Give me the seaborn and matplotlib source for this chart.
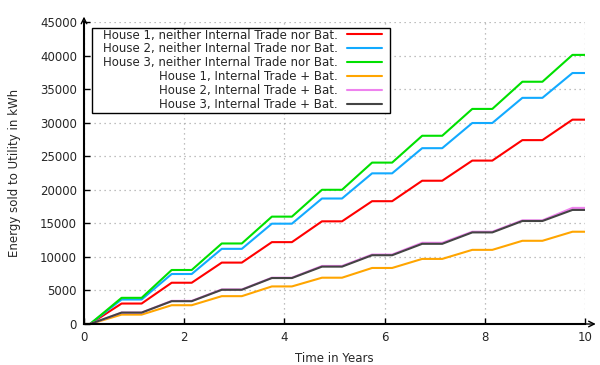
import numpy as np
import pandas as pd
import matplotlib
matplotlib.use("Agg")
import matplotlib.pyplot as plt
from matplotlib.patches import Rectangle
import seaborn as sns

# Year-end plateau values (kWh)
years = [1, 2, 3, 4, 5, 6, 7, 8, 9, 10]
h1_none = [3050, 6150, 9150, 12200, 15300, 18300, 21350, 24350, 27400, 30450]
h2_none = [3650, 7450, 11200, 14950, 18700, 22450, 26200, 29950, 33700, 37400]
h3_none = [3900, 8050, 12000, 16000, 20000, 24050, 28050, 32050, 36100, 40100]
h1_trade = [1400, 2800, 4150, 5600, 6900, 8350, 9700, 11050, 12400, 13750]
h2_trade = [1700, 3450, 5150, 6900, 8650, 10350, 12100, 13750, 15450, 17300]
h3_trade = [1700, 3400, 5100, 6850, 8550, 10250, 11950, 13650, 15350, 17000]

labels = [
    "House 1, neither Internal Trade nor Bat.",
    "House 2, neither Internal Trade nor Bat.",
    "House 3, neither Internal Trade nor Bat.",
    "House 1, Internal Trade + Bat.",
    "House 2, Internal Trade + Bat.",
    "House 3, Internal Trade + Bat.",
]
colors = ["#ff0000", "#12aaff", "#00e000", "#ffa500", "#ee82ee", "#444444"]
series = [h1_none, h2_none, h3_none, h1_trade, h2_trade, h3_trade]

# plateau start / end times within each year
rise_start = 0.12
plateau_from = -0.25
plateau_to = 0.15


def build(vals):
    xs = [0.0, rise_start]
    ys = [0.0, 0.0]
    for y, v in zip(years, vals):
        xs.append(y + plateau_from)
        ys.append(v)
        end = min(y + plateau_to, 10.0)
        if end > y + plateau_from:
            xs.append(end)
            ys.append(v)
    return xs, ys


rows = []
for lab, vals in zip(labels, series):
    xs, ys = build(vals)
    for x, y in zip(xs, ys):
        rows.append({"t": x, "e": y, "s": lab})
df = pd.DataFrame(rows)

sns.set_style("white")
plt.rcParams["font.family"] = ["DejaVu Sans"]
fs = 8.5

fig = plt.figure(figsize=(6.0, 3.65), dpi=100)
ax = fig.add_axes([0.14, 0.1123, 0.835, 0.8274])

sns.lineplot(data=df, x="t", y="e", hue="s", hue_order=labels,
             palette=dict(zip(labels, colors)), ax=ax, linewidth=1.5,
             legend=False, estimator=None, sort=False)

ax.set_xlim(0, 10)
ax.set_ylim(0, 45000)
ax.set_xticks([0, 2, 4, 6, 8, 10])
ax.set_yticks(np.arange(0, 45001, 5000))
ax.grid(True, color="#aaaaaa", linestyle=(0, (1, 3)), linewidth=0.9)
ax.tick_params(direction="in", length=4, width=1, labelsize=fs, color="black",
               pad=5, left=True, bottom=True)
for sp in ["top", "right"]:
    ax.spines[sp].set_visible(False)
for sp in ["left", "bottom"]:
    ax.spines[sp].set_color("black")
    ax.spines[sp].set_linewidth(1.5)

ax.set_xlabel("Time in Years", fontsize=fs, labelpad=6)
ax.set_ylabel("Energy sold to Utility in kWh", fontsize=fs, labelpad=14)

# axis arrows
ax.annotate("", xy=(1.027, 0), xytext=(0.99, 0), xycoords="axes fraction",
            arrowprops=dict(arrowstyle="->", color="black", lw=1.0),
            annotation_clip=False)
ax.annotate("", xy=(0, 1.027), xytext=(0, 0.99), xycoords="axes fraction",
            arrowprops=dict(arrowstyle="->", color="black", lw=1.0),
            annotation_clip=False)

W, H = 600.0, 365.0
handles = [plt.Line2D([], [], color=c, lw=1.5) for c in colors]
leg = ax.legend(handles, labels, loc="upper right",
                bbox_to_anchor=(382 / W, 1 - 28.5 / H),
                bbox_transform=fig.transFigure,
                borderaxespad=0, markerfirst=False, fontsize=fs,
                frameon=False, handlelength=3.0, handletextpad=0.76,
                labelspacing=0.08, borderpad=0)

fig.canvas.draw()
bb = leg.get_window_extent(fig.canvas.get_renderer())
x0 = bb.x0 - 11
x1 = bb.x1 + 8
y0 = bb.y0 - 1.5
y1 = bb.y1 + 0.5
rect = Rectangle((x0 / W, y0 / H), (x1 - x0) / W, (y1 - y0) / H,
                 transform=fig.transFigure, facecolor="white",
                 edgecolor="black", linewidth=1.0, zorder=4)
fig.add_artist(rect)
leg.set_zorder(5)
leg.remove()
fig.add_artist(leg)

fig.savefig("out.png", dpi=100)
